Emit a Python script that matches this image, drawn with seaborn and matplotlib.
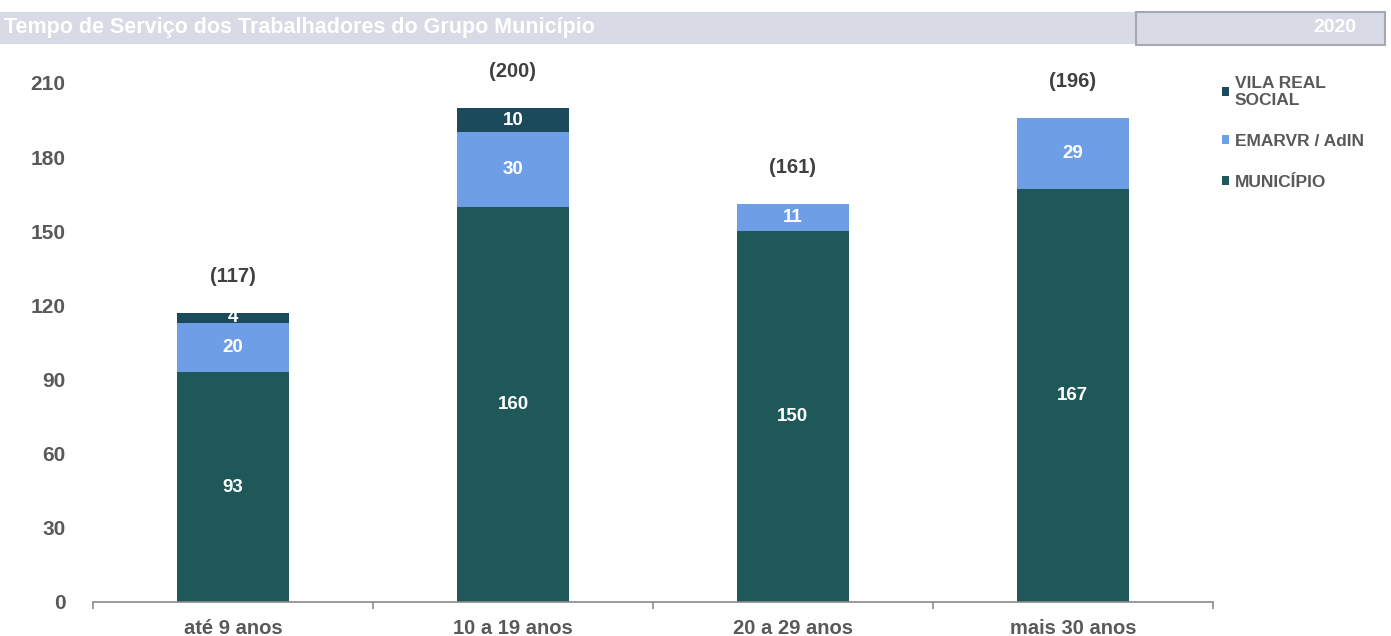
import matplotlib
matplotlib.use("Agg")
import matplotlib.pyplot as plt
from matplotlib.patches import Rectangle, Patch
import numpy as np
import pandas as pd
import seaborn as sns

# Tempo de serviço por grupo de entidades
categories = ["até 9 anos", "10 a 19 anos", "20 a 29 anos", "mais 30 anos"]
municipio = [93, 160, 150, 167]
emarvr = [20, 30, 11, 29]
vila_real = [4, 10, 0, 0]
series_names = ["VILA REAL\nSOCIAL", "EMARVR / AdIN", "MUNICÍPIO"]
yticks = [0, 30, 60, 90, 120, 150, 180, 210]
title = "Tempo de Serviço dos Trabalhadores do Grupo Município"
year = "2020"

C_MUN = "#1f5859"
C_EMA = "#6e9ee6"
C_VRS = "#1b4a5c"
C_TXT = "#595959"

sns.set_theme(style="white")
plt.rcParams["font.family"] = ["Liberation Sans", "DejaVu Sans"]

fig = plt.figure(figsize=(13.91, 6.36), dpi=100)
ax = fig.add_axes([0.0669, 0.0535, 0.805, 0.816])

df = pd.DataFrame({
    "cat": categories,
    "mun": municipio,
    "ema": emarvr,
    "vrs": vila_real,
})
df["lvl2"] = df["mun"] + df["ema"]
df["total"] = df["lvl2"] + df["vrs"]

# stacked bars: draw cumulative layers from the top down
for col, color in [("total", C_VRS), ("lvl2", C_EMA), ("mun", C_MUN)]:
    sns.barplot(data=df, x="cat", y=col, color=color, width=0.4,
                saturation=1, ax=ax, linewidth=0, order=categories)

ax.set_xlim(-0.5, 3.5)
ax.set_ylim(0, 210)
ax.set_xlabel("")
ax.set_ylabel("")
ax.set_yticks(yticks)
ax.set_yticklabels([str(v) for v in yticks])
ax.tick_params(axis="y", length=0, pad=20, labelsize=15, labelcolor=C_TXT)
ax.tick_params(axis="x", which="major", length=0, pad=12, labelsize=14.5,
               labelcolor=C_TXT)
ax.set_xticks(np.arange(-0.5, 4.0, 1.0), minor=True)
ax.tick_params(axis="x", which="minor", bottom=True, length=5, width=1.2,
               color="#8a8a8a", direction="out")
for lab in ax.get_xticklabels() + ax.get_yticklabels():
    lab.set_fontweight("bold")

for side in ["top", "right", "left"]:
    ax.spines[side].set_visible(False)
ax.spines["bottom"].set_color("#8a8a8a")
ax.spines["bottom"].set_linewidth(1.2)
ax.grid(False)

# segment values
for i in range(len(categories)):
    segs = [(0, municipio[i]), (municipio[i], emarvr[i]),
            (municipio[i] + emarvr[i], vila_real[i])]
    for base, val in segs:
        if val > 0:
            ax.text(i, base + val / 2, str(val), ha="center", va="center",
                    color="white", fontsize=13.5, fontweight="bold")
    tot = df["total"][i]
    ax.annotate(f"({tot})", (i, tot), xytext=(0, 26), textcoords="offset points",
                ha="center", va="center", color="#404040", fontsize=14.5,
                fontweight="bold", annotation_clip=False)

# legend
handles = [Patch(facecolor=c, edgecolor="none") for c in (C_VRS, C_EMA, C_MUN)]
leg = fig.legend(handles, series_names, loc="upper left",
                 bbox_to_anchor=(0.867, 0.905), frameon=False,
                 fontsize=12.5, handlelength=0.45, handleheight=0.45,
                 handletextpad=0.3, labelspacing=1.5)
for t in leg.get_texts():
    t.set_color(C_TXT)
    t.set_fontweight("bold")
    t.set_linespacing(1.15)

# header band
H = 636.0
W = 1391.0
fig.patches.append(Rectangle((0, 1 - 44 / H), 1345 / W, 32 / H,
                             transform=fig.transFigure, facecolor="#d8dbe5",
                             edgecolor="none", zorder=0))
fig.patches.append(Rectangle((1136 / W, 1 - 45 / H), 249 / W, 33 / H,
                             transform=fig.transFigure, facecolor="#d8dbe5",
                             edgecolor="#a5a8b2", linewidth=1.5, zorder=0))
fig.text(4 / W, 1 - 28 / H, title, ha="left", va="center", color="white",
         fontsize=15.5, fontweight="bold")
fig.text(1356 / W, 1 - 28 / H, year, ha="right", va="center", color="white",
         fontsize=14, fontweight="bold")

fig.savefig("out.png", dpi=100)
